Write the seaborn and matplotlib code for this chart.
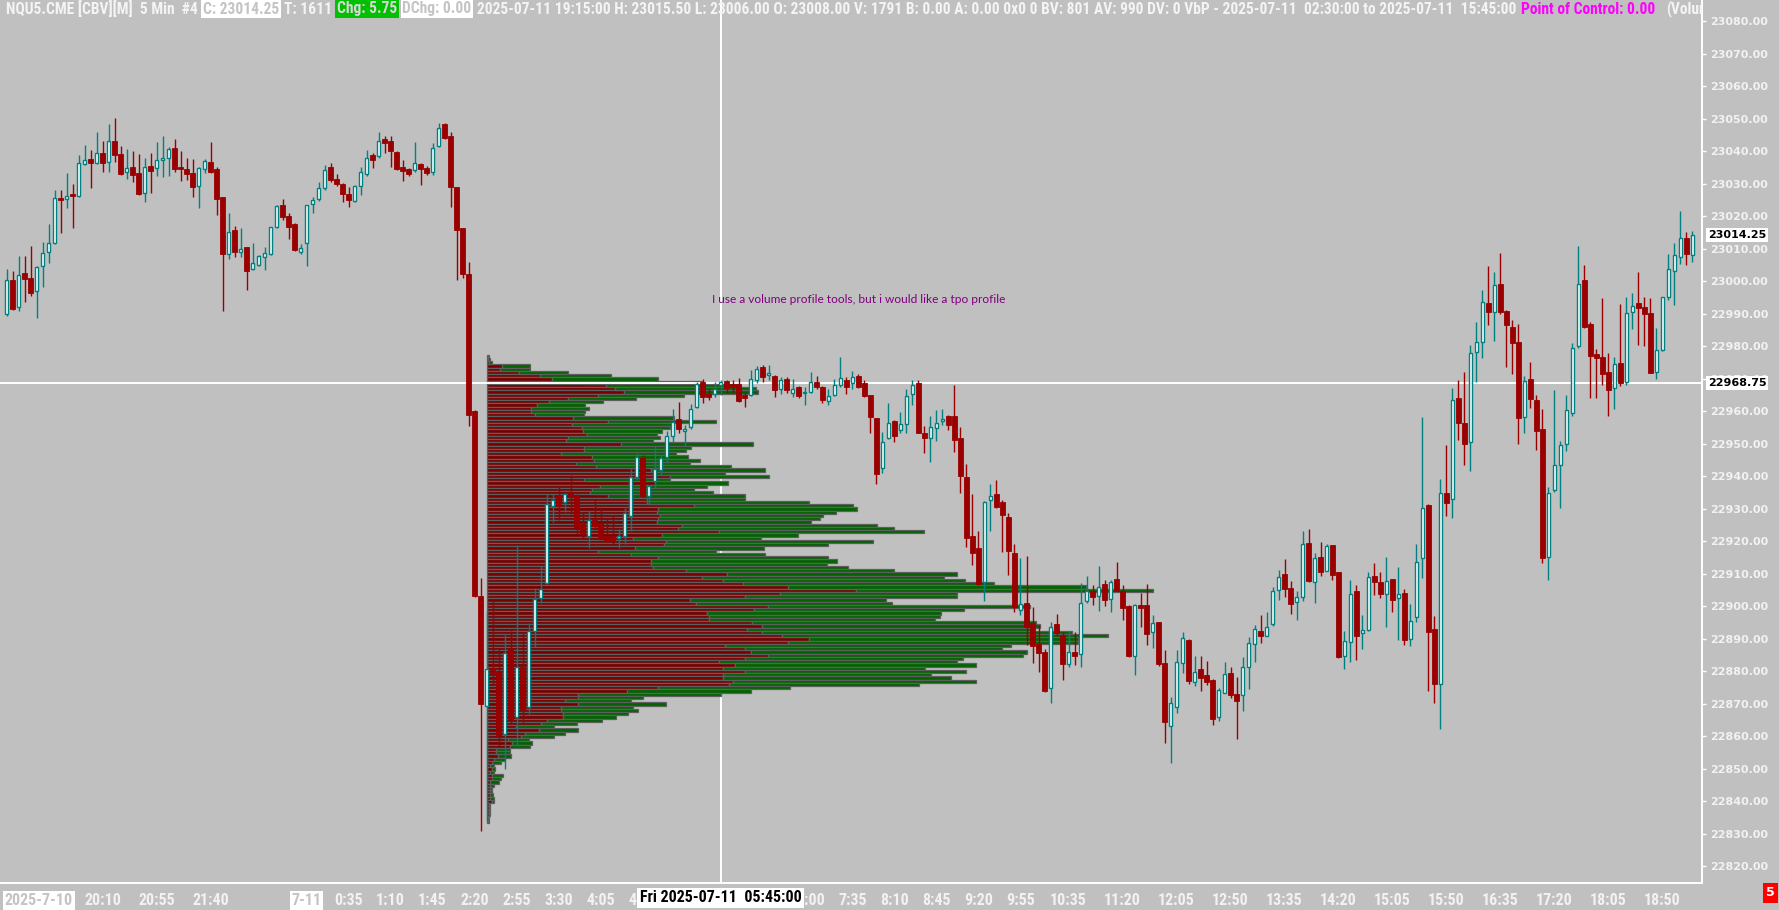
import matplotlib
matplotlib.use("Agg")
import matplotlib.pyplot as plt
import matplotlib.transforms as mtransforms
from matplotlib import font_manager
from matplotlib.ticker import FormatStrFormatter
import numpy as np
import pandas as pd
import seaborn as sns

# NQU5.CME 5 min bars. bar 0 = 2025-07-11 00:00, bar -50 = 2025-07-10 18:50
first_bar = -50

opens = [
    22989.9, 23000.4, 22992.0, 23002.6, 23001.0, 22997.0, 23004.7, 23009.0, 23011.8, 23025.7,
    23025.4, 23026.8, 23026.2, 23036.1, 23037.6, 23036.4, 23039.4, 23036.7, 23043.1, 23039.1,
    23033.6, 23035.3, 23033.3, 23027.1, 23035.4, 23034.8, 23037.5, 23037.9, 23041.0, 23035.1,
    23034.5, 23033.3, 23029.4, 23034.5, 23036.9, 23034.5, 23025.9, 23008.3, 23015.8, 23009.2,
    23010.5, 23003.7, 23005.0, 23007.4, 23008.3, 23016.7, 23023.6, 23020.2, 23017.7, 23009.2,
    23011.8, 23023.8, 23025.4, 23028.7, 23035.1, 23031.4, 23029.9, 23026.9, 23024.6, 23029.4,
    23033.1, 23038.8, 23038.7, 23043.7, 23043.3, 23039.9, 23035.3, 23034.5, 23034.2, 23036.1,
    23035.0, 23033.6, 23041.7, 23048.3, 23044.8, 23029.0, 23016.3, 23002.4, 22960.2, 22903.2,
    22869.4, 22880.8, 22880.0, 22860.8, 22886.9, 22866.0, 22881.5, 22869.0, 22892.4, 22902.7,
    22907.3, 22931.0, 22934.4, 22932.2, 22934.9, 22934.4, 22925.4, 22921.6, 22926.6, 22925.7,
    22921.6, 22921.6, 22921.0, 22921.6, 22927.8, 22939.9, 22945.6, 22934.0, 22938.7, 22942.1,
    22945.9, 22952.4, 22957.7, 22954.0, 22955.2, 22961.4, 22969.1, 22965.4, 22965.4, 22968.2,
    22969.5, 22968.5, 22968.4, 22965.0, 22965.1, 22969.7, 22973.8, 22971.3, 22971.0, 22966.8,
    22969.9, 22965.8, 22967.6, 22965.6, 22965.9, 22969.2, 22967.6, 22963.2, 22965.1, 22968.2,
    22969.7, 22968.7, 22971.0, 22968.9, 22965.0, 22957.9, 22942.5, 22951.7, 22957.1, 22954.3,
    22956.1, 22965.3, 22968.7, 22953.5, 22951.7, 22954.8, 22957.2, 22958.6, 22958.7, 22951.9,
    22939.7, 22921.8, 22918.1, 22907.4, 22932.6, 22934.6, 22932.1, 22927.4, 22916.4, 22898.9,
    22901.0, 22894.8, 22888.4, 22885.9, 22874.8, 22894.5, 22891.1, 22882.2, 22885.9, 22885.3,
    22901.7, 22904.9, 22903.2, 22906.8, 22902.2, 22908.4, 22904.6, 22900.2, 22884.9, 22900.5,
    22900.4, 22892.1, 22895.1, 22882.7, 22863.2, 22869.2, 22882.5, 22889.7, 22876.9, 22880.7,
    22878.9, 22877.4, 22865.9, 22873.5, 22879.4, 22873.1, 22872.6, 22881.3, 22888.4, 22892.3,
    22891.0, 22894.5, 22905.1, 22909.9, 22905.8, 22901.5, 22902.8, 22919.4, 22907.6, 22915.3,
    22911.0, 22918.8, 22910.5, 22884.8, 22889.0, 22904.6, 22891.8, 22892.6, 22909.4, 22907.6,
    22903.8, 22908.3, 22902.5, 22904.1, 22890.1, 22896.9, 22914.8, 22931.1, 22893.1, 22876.2,
    22935.0, 22933.1, 22964.0, 22956.3, 22950.6, 22978.3, 22981.5, 22993.3, 22990.6, 22999.3,
    22990.9, 22986.0, 22981.3, 22958.4, 22969.9, 22963.4, 22954.5, 22915.1, 22935.8, 22943.5,
    22950.1, 22959.6, 22980.0, 23000.3, 22987.0, 22977.8, 22976.9, 22972.1, 22967.3, 22974.9,
    22969.2, 22990.6, 22993.4, 22992.1, 22990.3, 22972.1, 22978.9, 22995.1, 23003.3, 23007.6,
    23013.3, 23008.0,
]
highs = [
    23003.8, 23003.1, 23007.8, 23007.8, 23011.0, 23004.6, 23012.2, 23017.7, 23028.2, 23028.2,
    23033.3, 23029.9, 23038.9, 23042.0, 23040.5, 23046.0, 23043.2, 23048.5, 23050.3, 23041.7,
    23040.7, 23040.2, 23039.2, 23037.9, 23039.4, 23042.9, 23044.8, 23041.5, 23043.9, 23040.0,
    23037.9, 23037.6, 23035.3, 23037.6, 23042.9, 23035.3, 23026.1, 23021.0, 23017.2, 23016.5,
    23010.7, 23011.7, 23008.2, 23010.7, 23016.9, 23023.4, 23025.4, 23021.0, 23017.9, 23011.5,
    23023.6, 23026.1, 23030.7, 23035.9, 23036.4, 23033.0, 23030.2, 23029.0, 23029.6, 23035.1,
    23040.5, 23039.6, 23046.0, 23044.8, 23044.8, 23040.2, 23037.4, 23034.8, 23042.9, 23036.4,
    23035.5, 23042.5, 23048.7, 23048.9, 23046.1, 23029.2, 23016.5, 23005.9, 22960.4, 22908.6,
    22898.6, 22902.3, 22887.0, 22891.3, 22892.4, 22918.8, 22891.8, 22895.0, 22905.8, 22912.5,
    22934.7, 22934.7, 22937.2, 22935.0, 22940.3, 22934.6, 22929.1, 22929.3, 22933.1, 22930.3,
    22927.0, 22928.2, 22923.7, 22930.3, 22942.4, 22947.1, 22946.5, 22937.4, 22949.3, 22946.5,
    22954.0, 22960.8, 22963.0, 22955.8, 22962.3, 22969.2, 22970.1, 22967.0, 22969.2, 22969.7,
    22969.7, 22969.7, 22970.2, 22966.1, 22972.6, 22974.0, 22974.3, 22974.3, 22971.2, 22970.7,
    22970.5, 22969.9, 22967.8, 22967.6, 22972.0, 22970.9, 22967.8, 22966.8, 22969.9, 22976.7,
    22970.7, 22972.3, 22971.4, 22969.7, 22965.2, 22958.1, 22953.8, 22962.5, 22957.4, 22959.9,
    22966.8, 22969.7, 22969.7, 22955.5, 22958.6, 22960.3, 22960.7, 22958.9, 22968.2, 22955.3,
    22943.9, 22934.6, 22923.2, 22932.3, 22937.7, 22938.9, 22932.8, 22928.9, 22919.1, 22914.8,
    22915.5, 22899.7, 22894.3, 22886.8, 22895.3, 22897.7, 22892.1, 22892.5, 22892.2, 22907.3,
    22909.4, 22906.6, 22912.5, 22908.2, 22908.2, 22913.7, 22906.6, 22900.4, 22900.8, 22904.1,
    22906.9, 22897.4, 22895.3, 22886.6, 22872.1, 22886.6, 22892.1, 22889.9, 22884.8, 22884.8,
    22883.2, 22877.6, 22874.8, 22882.8, 22881.5, 22878.4, 22884.3, 22890.7, 22894.3, 22897.4,
    22898.2, 22906.1, 22911.2, 22914.6, 22907.9, 22904.8, 22923.2, 22923.9, 22916.4, 22919.7,
    22919.2, 22919.0, 22910.7, 22892.3, 22908.0, 22906.5, 22897.5, 22910.7, 22913.5, 22910.7,
    22915.2, 22908.5, 22912.0, 22905.5, 22900.8, 22919.2, 22958.2, 22931.6, 22897.2, 22939.1,
    22949.6, 22967.3, 22969.7, 22972.1, 22980.5, 22987.6, 22997.5, 23004.7, 23002.8, 23008.9,
    22991.1, 22988.2, 22987.0, 22971.0, 22975.2, 22965.1, 22960.9, 22936.6, 22966.7, 22951.0,
    22965.1, 22981.1, 23010.8, 23005.0, 22987.6, 22979.1, 22994.9, 22978.0, 22976.6, 22993.2,
    22995.1, 22996.4, 23002.8, 22995.3, 22994.9, 22985.7, 22995.3, 23008.3, 23011.8, 23021.8,
    23015.1, 23015.5,
]
lows = [
    22989.5, 22991.2, 22991.0, 22993.8, 22995.6, 22988.6, 22998.4, 23005.8, 23011.5, 23014.8,
    23022.7, 23016.3, 23026.0, 23035.9, 23028.9, 23036.1, 23033.8, 23033.8, 23036.9, 23032.8,
    23031.4, 23030.7, 23026.6, 23024.3, 23027.1, 23032.3, 23032.1, 23032.3, 23033.8, 23031.0,
    23031.2, 23026.1, 23022.5, 23033.3, 23033.3, 23020.5, 22991.0, 23007.0, 23007.4, 23007.6,
    22997.4, 23003.4, 23004.6, 23003.5, 23008.1, 23016.5, 23018.9, 23013.0, 23009.5, 23008.5,
    23004.9, 23021.2, 23024.6, 23028.2, 23030.7, 23029.4, 23024.3, 23022.8, 23024.3, 23026.6,
    23032.5, 23034.8, 23037.9, 23039.4, 23035.3, 23034.3, 23031.0, 23032.4, 23033.8, 23029.7,
    23032.8, 23032.8, 23041.5, 23043.8, 23023.0, 23000.5, 23001.0, 22955.4, 22903.0, 22831.0,
    22834.0, 22876.2, 22857.0, 22849.9, 22863.9, 22857.1, 22863.9, 22867.0, 22887.4, 22901.1,
    22907.0, 22926.0, 22926.6, 22929.1, 22928.5, 22922.2, 22921.2, 22917.9, 22923.5, 22920.4,
    22919.8, 22919.1, 22917.9, 22919.1, 22923.2, 22939.0, 22933.7, 22931.6, 22936.5, 22940.3,
    22944.0, 22950.2, 22953.3, 22949.3, 22954.6, 22961.2, 22962.6, 22963.5, 22964.3, 22965.1,
    22965.6, 22965.8, 22963.0, 22961.5, 22964.6, 22968.7, 22969.2, 22969.7, 22964.4, 22965.3,
    22965.6, 22964.3, 22964.1, 22962.0, 22965.6, 22966.8, 22962.5, 22962.0, 22964.6, 22967.6,
    22965.4, 22966.8, 22967.1, 22964.3, 22953.5, 22937.6, 22941.2, 22951.4, 22950.7, 22953.3,
    22953.5, 22962.0, 22953.3, 22947.1, 22944.3, 22951.0, 22955.9, 22954.3, 22947.6, 22934.8,
    22918.4, 22912.8, 22906.6, 22901.8, 22923.1, 22930.2, 22916.6, 22909.7, 22898.4, 22897.4,
    22888.2, 22882.7, 22879.9, 22873.8, 22870.4, 22890.9, 22877.4, 22881.5, 22882.0, 22881.5,
    22901.0, 22900.5, 22898.7, 22900.2, 22898.4, 22904.6, 22895.9, 22884.3, 22878.9, 22893.6,
    22888.2, 22887.3, 22881.8, 22858.1, 22851.7, 22867.3, 22879.4, 22876.1, 22875.6, 22874.1,
    22875.9, 22863.5, 22864.9, 22873.3, 22871.7, 22859.2, 22867.9, 22874.6, 22883.0, 22888.9,
    22890.8, 22894.0, 22902.0, 22903.0, 22897.7, 22895.8, 22901.8, 22907.5, 22901.0, 22909.5,
    22910.8, 22908.0, 22884.0, 22880.7, 22882.8, 22883.5, 22886.8, 22892.4, 22903.6, 22902.5,
    22893.6, 22898.3, 22889.8, 22888.1, 22887.9, 22895.3, 22908.7, 22874.0, 22870.3, 22862.2,
    22927.8, 22927.2, 22951.3, 22943.6, 22941.8, 22969.2, 22976.3, 22986.5, 22981.6, 22990.1,
    22973.6, 22971.4, 22949.9, 22953.4, 22961.1, 22948.2, 22913.5, 22908.2, 22935.3, 22930.4,
    22947.9, 22958.5, 22979.4, 22985.7, 22964.0, 22964.0, 22968.1, 22958.5, 22960.7, 22967.7,
    22968.1, 22985.4, 22980.5, 22980.0, 22971.7, 22969.9, 22978.7, 22994.3, 22992.6, 23005.5,
    23005.0, 23006.0,
]
closes = [
    23000.5, 22991.5, 23001.9, 23000.7, 22996.4, 23004.4, 23008.7, 23011.8, 23025.6, 23025.0,
    23026.4, 23026.2, 23036.4, 23037.4, 23036.4, 23039.4, 23036.4, 23043.1, 23038.9, 23033.1,
    23035.0, 23032.8, 23026.8, 23035.3, 23033.9, 23037.5, 23037.9, 23040.7, 23034.5, 23034.5,
    23033.0, 23029.0, 23034.8, 23037.2, 23033.6, 23025.3, 23008.3, 23015.3, 23009.0, 23010.1,
    23003.1, 23005.6, 23007.8, 23008.8, 23016.7, 23023.2, 23019.7, 23016.9, 23009.7, 23010.2,
    23023.4, 23025.1, 23028.7, 23034.3, 23031.2, 23029.9, 23026.8, 23025.1, 23029.4, 23033.6,
    23037.9, 23037.4, 23043.3, 23042.5, 23040.0, 23034.7, 23034.1, 23033.1, 23036.4, 23034.6,
    23033.3, 23041.2, 23047.1, 23044.1, 23029.0, 23015.9, 23002.3, 22958.9, 22903.2, 22870.0,
    22880.6, 22879.4, 22860.0, 22885.6, 22865.4, 22881.5, 22868.5, 22892.4, 22902.3, 22905.5,
    22931.6, 22932.8, 22931.6, 22934.7, 22934.0, 22924.1, 22922.2, 22926.6, 22924.7, 22920.7,
    22920.0, 22920.4, 22921.6, 22928.7, 22939.9, 22945.9, 22934.0, 22937.2, 22942.4, 22945.6,
    22952.3, 22956.8, 22954.6, 22954.6, 22960.8, 22968.5, 22964.5, 22964.5, 22967.0, 22969.0,
    22967.1, 22967.4, 22963.2, 22964.1, 22970.1, 22973.0, 22970.7, 22971.7, 22966.6, 22969.8,
    22966.6, 22966.8, 22964.6, 22966.0, 22969.2, 22967.4, 22963.5, 22964.6, 22968.0, 22970.4,
    22967.4, 22970.7, 22967.6, 22964.8, 22958.2, 22940.8, 22950.7, 22956.4, 22952.5, 22956.1,
    22964.6, 22968.0, 22953.5, 22951.7, 22955.3, 22956.4, 22957.4, 22955.9, 22951.2, 22940.0,
    22921.0, 22916.4, 22906.9, 22932.1, 22934.1, 22930.7, 22928.0, 22917.1, 22899.7, 22900.8,
    22893.6, 22887.8, 22885.8, 22874.1, 22893.6, 22891.7, 22882.2, 22886.1, 22884.6, 22901.0,
    22904.8, 22903.0, 22906.1, 22902.0, 22907.6, 22904.9, 22899.4, 22884.9, 22900.3, 22899.4,
    22891.4, 22894.8, 22882.2, 22864.4, 22870.2, 22882.8, 22890.2, 22877.2, 22879.8, 22877.9,
    22876.6, 22865.3, 22874.3, 22879.2, 22872.6, 22871.0, 22881.3, 22888.7, 22893.0, 22891.0,
    22893.6, 22904.8, 22909.2, 22905.3, 22900.6, 22902.8, 22919.2, 22907.9, 22914.8, 22910.5,
    22918.6, 22909.7, 22884.4, 22889.4, 22903.9, 22891.0, 22892.8, 22909.1, 22907.6, 22903.8,
    22907.9, 22901.9, 22903.9, 22889.8, 22895.6, 22913.7, 22930.2, 22892.2, 22876.2, 22935.0,
    22931.9, 22963.4, 22956.5, 22949.9, 22978.0, 22981.3, 22993.6, 22990.6, 22998.9, 22990.6,
    22986.5, 22981.1, 22958.1, 22969.4, 22963.7, 22954.1, 22914.9, 22935.0, 22943.5, 22949.6,
    22960.4, 22979.6, 22999.3, 22986.0, 22977.2, 22976.3, 22971.6, 22966.7, 22974.5, 22968.8,
    22990.3, 22992.5, 22991.8, 22990.1, 22971.9, 22978.9, 22995.1, 23003.7, 23008.0, 23013.3,
    23008.3, 23014.25,
]

# volume by price 02:30 -> 15:45, one row per point from vbp_high down to vbp_low
vbp_start_bar = 30
vbp_high = 22977
vbp_low = 22834
vbp_sell = [
    1, 1, 2, 15, 13, 32, 53, 65, 99, 119,
    128, 137, 111, 81, 62, 50, 44, 44, 48, 86,
    121, 85, 95, 96, 100, 81, 79, 134, 97, 97,
    74, 105, 107, 89, 109, 164, 168, 183, 97, 168,
    113, 105, 103, 121, 160, 160, 207, 171, 170, 173,
    171, 170, 195, 191, 232, 175, 146, 179, 177, 148,
    111, 144, 171, 164, 164, 166, 199, 240, 215, 236,
    256, 301, 369, 293, 258, 203, 209, 281, 267, 220,
    222, 222, 265, 275, 260, 275, 295, 322, 301, 238,
    258, 264, 281, 258, 232, 248, 236, 258, 236, 236,
    246, 242, 171, 140, 91, 91, 78, 91, 74, 74,
    76, 76, 60, 54, 29, 52, 38, 34, 21, 25,
    23, 9, 9, 11, 7, 5, 3, 5, 3, 5,
    5, 3, 3, 3, 3, 3, 3, 5, 2, 2,
    2, 2, 1, 1,
]
vbp_buy = [
    1, 2, 3, 28, 30, 49, 71, 106, 116, 131,
    141, 134, 86, 68, 54, 48, 58, 54, 49, 101,
    108, 100, 88, 79, 70, 92, 87, 132, 107, 102,
    115, 96, 106, 114, 135, 114, 70, 99, 86, 73,
    107, 102, 123, 137, 98, 162, 159, 199, 179, 163,
    162, 154, 195, 216, 205, 136, 128, 207, 164, 129,
    118, 134, 170, 186, 176, 195, 208, 230, 242, 242,
    251, 298, 297, 177, 212, 196, 196, 262, 210, 234,
    231, 226, 284, 278, 287, 310, 326, 269, 290, 286,
    257, 276, 255, 218, 238, 241, 202, 221, 208, 228,
    243, 190, 132, 124, 143, 65, 66, 88, 72, 77,
    65, 53, 55, 36, 38, 39, 40, 33, 21, 20,
    20, 14, 14, 13, 11, 9, 4, 3, 4, 11,
    9, 9, 4, 2, 2, 3, 4, 2, 1, 1,
    1, 1, 1, 1,
]

time_tick_bars = [-44.6, -34, -25, -16, 0, 7, 14, 21, 28, 35, 42, 49, 56, 63, 70, 77, 84,
                  91, 98, 105, 112, 119, 127, 136, 145, 154, 163, 172, 181, 190, 199, 208, 217, 226]
time_tick_labels = ["2025-7-10", "20:10", "20:55", "21:40", "7-11", "0:35", "1:10", "1:45",
                    "2:20", "2:55", "3:30", "4:05", "4:40", "5:15", "5:50", "6:25", "7:00",
                    "7:35", "8:10", "8:45", "9:20", "9:55", "10:35", "11:20", "12:05", "12:50",
                    "13:35", "14:20", "15:05", "15:50", "16:35", "17:20", "18:05", "18:50"]

last_price = 23014.25
cursor_price = 22968.75
cursor_bar = 69
cursor_time = "Fri 2025-07-11  05:45:00"
note = "I use a volume profile tools, but i would like a tpo profile"

header = [
    # text, text colour, box colour
    ("NQU5.CME [CBV][M]  5 Min  #4", "#f4f4f4", None),
    ("C: 23014.25", "#c4c4c4", "white"),
    ("T: 1611", "#f4f4f4", None),
    ("Chg: 5.75", "#d8d8d8", "#00c000"),
    ("DChg: 0.00", "#c4c4c4", "white"),
    ("2025-07-11 19:15:00 H: 23015.50 L: 23006.00 O: 23008.00 V: 1791 B: 0.00 A: 0.00 "
     "0x0 0 BV: 801 AV: 990 DV: 0 VbP - 2025-07-11  02:30:00 to 2025-07-11  15:45:00",
     "#f4f4f4", None),
    ("Point of Control: 0.00", "#ff00ff", None),
    ("(Volume", "#f4f4f4", None),
]

BG = "#c0c0c0"
TEAL = "#008080"
DOWN = "#9b0000"
VOL_SELL = "#7a0000"
VOL_BUY = "#006400"
VOL_EDGE = "#5e5e5e"
AXIS_TXT = "#f2f2f2"

W, H = 1779, 910
PLOT_RIGHT, PLOT_BOTTOM = 1702, 883
BAR0_PX, PX_PER_BAR = 306.5, 6.0
Y_TOP, Y_BOTTOM = 23086.6, 22814.9
HEAD_X0, HEAD_VBP_END, HEAD_GAP = 6, 1516, 5


def pick_font(names):
    for name in names:
        try:
            font_manager.findfont(font_manager.FontProperties(family=name),
                                  fallback_to_default=False)
            return name
        except ValueError:
            continue
    return "DejaVu Sans"


sns.set_theme(style="dark", rc={"axes.facecolor": BG, "figure.facecolor": BG,
                                "axes.grid": False})
NARROW = pick_font(["Liberation Sans Narrow", "Roboto Condensed", "Open Sans Condensed",
                    "Liberation Sans", "Roboto"])
plt.rcParams["font.family"] = ["DejaVu Sans"]

df = pd.DataFrame({"open": opens, "high": highs, "low": lows, "close": closes})
df["bar"] = np.arange(first_bar, first_bar + len(df))
df["up"] = df["close"] >= df["open"]

fig = plt.figure(figsize=(W / 100, H / 100), dpi=100)
ax = fig.add_axes([0, 1 - PLOT_BOTTOM / H, PLOT_RIGHT / W, PLOT_BOTTOM / H])
ax.set_xlim(-BAR0_PX / PX_PER_BAR, (PLOT_RIGHT - BAR0_PX) / PX_PER_BAR)
ax.set_ylim(Y_BOTTOM, Y_TOP)

# volume profile (sell part left, buy part right)
levels = np.arange(vbp_high, vbp_low - 1, -1)
sell_w = np.array(vbp_sell) / PX_PER_BAR
buy_w = np.array(vbp_buy) / PX_PER_BAR
left = vbp_start_bar + 0.1
ax.barh(levels, sell_w, left=left, height=1.0, color=VOL_SELL,
        edgecolor=VOL_EDGE, linewidth=0.9, zorder=2)
ax.barh(levels, buy_w, left=left + sell_w, height=1.0, color=VOL_BUY,
        edgecolor=VOL_EDGE, linewidth=0.9, zorder=2)

# crosshair
ax.axvline(cursor_bar, color="white", linewidth=1.4, zorder=1.5)
ax.axhline(cursor_price, color="white", linewidth=1.4, zorder=3)

# candles
up = df[df["up"]]
dn = df[~df["up"]]
ax.vlines(up["bar"], up["low"], up["high"], color=TEAL, linewidth=1.0, zorder=4)
ax.vlines(dn["bar"], dn["low"], dn["high"], color=DOWN, linewidth=1.0, zorder=4)
ax.bar(up["bar"], np.maximum(up["close"] - up["open"], 0.35), bottom=up["open"],
       width=0.58, color="white", edgecolor=TEAL, linewidth=1.0, zorder=5)
ax.bar(dn["bar"], np.maximum(dn["open"] - dn["close"], 0.35), bottom=dn["close"],
       width=0.78, color=DOWN, edgecolor=DOWN, linewidth=0.6, zorder=5)

ax.text(67.6, 22994.5, note, color="#800080", fontsize=8.6, family="Lato",
        va="center", ha="left", zorder=6)

# axes look
for side in ("left", "top"):
    ax.spines[side].set_visible(False)
for side in ("right", "bottom"):
    ax.spines[side].set_color("white")
    ax.spines[side].set_linewidth(1.4)
ax.yaxis.tick_right()
ax.set_yticks(np.arange(22820, 23081, 10))
ax.yaxis.set_major_formatter(FormatStrFormatter("%.2f"))
ax.tick_params(axis="y", colors="white", labelcolor=AXIS_TXT, length=3, width=1,
               pad=3, labelsize=8)
for lbl in ax.get_yticklabels():
    lbl.set_fontweight("bold")
ax.set_xticks(time_tick_bars, time_tick_labels)
ax.tick_params(axis="x", colors="white", labelcolor=AXIS_TXT, length=3, width=1,
               pad=4, labelsize=11)
for lbl in ax.get_xticklabels():
    lbl.set_fontweight("bold")
    lbl.set_family([NARROW, "DejaVu Sans"])
    if "-" in lbl.get_text():
        lbl.set_color("#c4c4c4")
        lbl.set_bbox(dict(boxstyle="square,pad=0.12", fc="white", ec="none"))

renderer = fig.canvas.get_renderer()


def text_width(t):
    return t.get_window_extent(renderer).width


# match time label size to the reference ("20:10" is about 37 px wide)
probe = fig.text(0, 0, "20:10", fontsize=11, fontweight="bold", family=[NARROW, "DejaVu Sans"])
time_size = 11 * 37 / text_width(probe)
probe.remove()
for lbl in ax.get_xticklabels():
    lbl.set_fontsize(time_size)

# price boxes on the scale
blend = mtransforms.blended_transform_factory(ax.transAxes, ax.transData)
for price in (last_price, cursor_price):
    ax.text(1.0035, price, f"{price:.2f}", transform=blend, color="black", fontsize=8,
            fontweight="bold", va="center", ha="left", clip_on=False, zorder=7,
            bbox=dict(boxstyle="square,pad=0.15", fc="white", ec="none"))

# header line: flowing pieces, one font size chosen so the VbP text ends where it does
head = []
for text, color, box in header:
    kw = {}
    if box:
        kw["bbox"] = dict(boxstyle="square,pad=0.12", fc=box, ec="none")
    t = fig.text(0, 1 - 9 / H, text, color=color, fontsize=10, fontweight="bold",
                 family=[NARROW, "DejaVu Sans"], va="center", ha="left", **kw)
    head.append(t)
n_fit = 6
natural = sum(text_width(t) for t in head[:n_fit])
head_size = 10 * (HEAD_VBP_END - HEAD_X0 - HEAD_GAP * (n_fit - 1)) / natural
x = HEAD_X0
for t in head:
    t.set_fontsize(head_size)
    t.set_x(x / W)
    x += text_width(t) + HEAD_GAP
    if t.get_text().startswith("Point"):
        x += 6
head[-1].set_clip_box(mtransforms.Bbox.from_extents(0, 0, PLOT_RIGHT, H))
head[-1].set_clip_on(True)

# cursor time box
fig.text(cursor_bar * PX_PER_BAR / W + BAR0_PX / W, 1 - 898 / H, cursor_time,
         color="black", fontsize=time_size, fontweight="bold", family=[NARROW, "DejaVu Sans"],
         ha="center", va="center", zorder=8,
         bbox=dict(boxstyle="square,pad=0.15", fc="white", ec="none"))

fig.text(1770 / W, 1 - 893 / H, "5", color="white", fontsize=9, fontweight="bold",
         ha="center", va="center",
         bbox=dict(boxstyle="square,pad=0.25", fc="#ff0000", ec="none"))

fig.savefig("out.png", dpi=100, facecolor=BG)
